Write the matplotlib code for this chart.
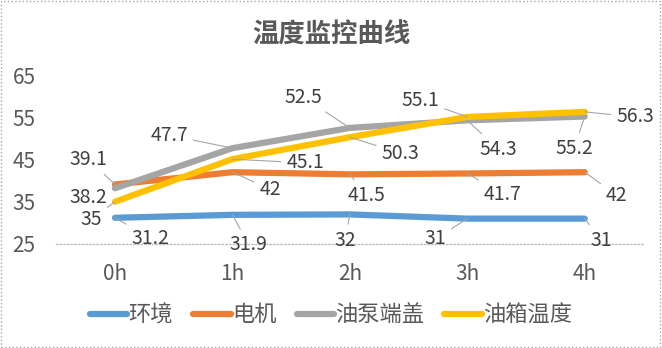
import matplotlib.pyplot as plt
from matplotlib.patches import Rectangle

plt.rcParams['font.family'] = ['Noto Sans CJK SC', 'DejaVu Sans']

hours = ['0h', '1h', '2h', '3h', '4h']
env = [31.2, 31.9, 32, 31, 31]
motor = [39.1, 42, 41.5, 41.7, 42]
pump_cover = [38.2, 47.7, 52.5, 54.3, 55.2]
tank = [35, 45.1, 50.3, 55.1, 56.3]

names = ['环境', '电机', '油泵端盖', '油箱温度']
colors = ['#5B9BD5', '#ED7D31', '#A5A5A5', '#FFC000']
series = [env, motor, pump_cover, tank]

# label positions (data coords), per series
label_pos = [
    [(0.30, 26.4), (1.14, 24.8), (1.96, 25.9), (2.73, 26.2), (4.14, 25.9)],
    [(-0.23, 45.1), (1.32, 38.0), (2.14, 36.6), (3.30, 36.8), (4.27, 36.6)],
    [(-0.23, 36.1), (0.46, 50.8), (1.60, 59.8), (3.26, 47.5), (3.91, 47.7)],
    [(-0.20, 30.9), (1.62, 44.2), (2.43, 46.5), (2.60, 59.1), (4.43, 55.1)],
]

fig = plt.figure(figsize=(6.62, 3.48), dpi=100)
ax = fig.add_axes([0.085, 0.299, 0.887, 0.485])
x = list(range(len(hours)))

for vals, name, c in zip(series, names, colors):
    ax.plot(x, vals, color=c, lw=4.5, solid_capstyle='round', solid_joinstyle='round', label=name)

txt = '#404040'
for vals, pos in zip(series, label_pos):
    for xi, v, (lx, ly) in zip(x, vals, pos):
        ax.annotate(f'{v:g}', xy=(xi, v), xytext=(lx, ly), textcoords='data',
                    ha='center', va='center', fontsize=14, color=txt,
                    arrowprops=dict(arrowstyle='-', color='#A6A6A6', lw=0.8,
                                    shrinkA=2, shrinkB=0))

ax.set_xlim(-0.5, 4.5)
ax.set_ylim(25, 65)
ax.set_yticks([25, 35, 45, 55, 65])
ax.set_xticks(x)
ax.set_xticklabels(hours)
ax.tick_params(axis='both', length=0, labelsize=15, labelcolor='#595959')
ax.tick_params(axis='y', pad=15)
ax.tick_params(axis='x', pad=14)
for s in ['top', 'right', 'left']:
    ax.spines[s].set_visible(False)
ax.spines['bottom'].set_color('#BFBFBF')
ax.spines['bottom'].set_linestyle(':')
ax.spines['bottom'].set_linewidth(1)

fig.text(0.5, 0.9, '温度监控曲线', ha='center', va='center', fontsize=19,
         color='#595959', fontweight='bold')

leg = fig.legend(loc='center', bbox_to_anchor=(0.5, 0.095), ncol=4, frameon=False,
                 fontsize=16, handlelength=1.7, handletextpad=0.05, columnspacing=0.9)
for t in leg.get_texts():
    t.set_color('#595959')

fig.patches.append(Rectangle((0.002, 0.003), 0.995, 0.993, transform=fig.transFigure,
                             fill=False, edgecolor='#A6A6A6', lw=1, ls=':'))

fig.savefig('out.png', dpi=100)
